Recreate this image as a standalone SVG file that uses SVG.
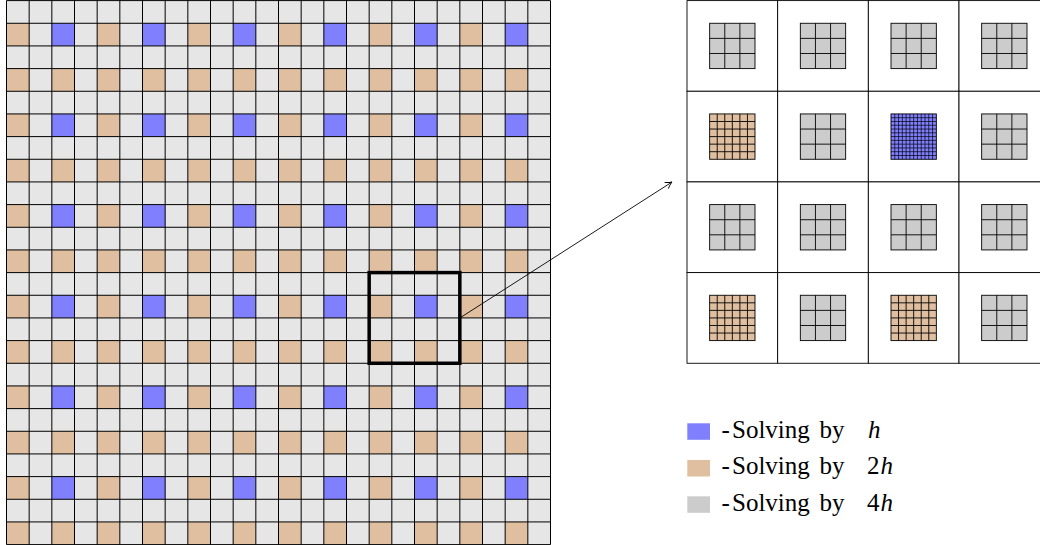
<svg xmlns="http://www.w3.org/2000/svg" xmlns:xlink="http://www.w3.org/1999/xlink" width="1040" height="545" viewBox="0 0 1040 545">
<style>
.gl{stroke:#000;stroke-width:0.9;fill:none}
.cell{stroke:#000;stroke-width:0.9;fill:none}
.tan{fill:#dfbf9f}
.blue{fill:#8080ff}
.lg{fill:#e6e6e6}
.dg{fill:#cccccc}
.zc{fill:#fff;stroke:#000;stroke-width:0.9}
.box{fill:none;stroke:#000;stroke-width:3.5}
.conn{stroke:#000;stroke-width:0.9;fill:none}
.lbl{font-size:25px;fill:#000}
</style>
<defs>
<marker id="arr" markerUnits="userSpaceOnUse" markerWidth="12" markerHeight="12" refX="10" refY="6" orient="auto" viewBox="0 0 12 12">
<path d="M3.5 2.5 Q8 5.5 10 6 Q8 6.5 3.5 9.5" fill="none" stroke="#000" stroke-width="0.9"/>
</marker>
<g id="blk">
<rect class="tan" x="0" y="22.667" width="22.667" height="22.667"/>
<rect class="blue" x="45.333" y="22.667" width="22.667" height="22.667"/>
<rect class="tan" x="0" y="68" width="22.667" height="22.667"/>
<rect class="tan" x="45.333" y="68" width="22.667" height="22.667"/>
</g>
<g id="blkrow">
<use xlink:href="#blk" x="0"/>
<use xlink:href="#blk" x="90.667"/>
<use xlink:href="#blk" x="181.333"/>
<use xlink:href="#blk" x="272"/>
<use xlink:href="#blk" x="362.667"/>
<use xlink:href="#blk" x="453.333"/>
</g>
<g id="g3"><rect class="dg" width="45.333" height="45.333"/><path class="gl" d="M15.111 0V45.333M30.222 0V45.333M0 15.111H45.333M0 30.222H45.333"/><rect class="cell" width="45.333" height="45.333"/></g>
<g id="g6"><rect class="tan" width="45.333" height="45.333"/><path class="gl" d="M7.556 0V45.333M15.111 0V45.333M22.667 0V45.333M30.222 0V45.333M37.778 0V45.333M0 7.556H45.333M0 15.111H45.333M0 22.667H45.333M0 30.222H45.333M0 37.778H45.333"/><rect class="cell" width="45.333" height="45.333"/></g>
<g id="g12"><rect class="blue" width="45.333" height="45.333"/><path class="gl" style="stroke-width:0.7" d="M3.778 0V45.333M7.556 0V45.333M11.333 0V45.333M15.111 0V45.333M18.889 0V45.333M22.667 0V45.333M26.444 0V45.333M30.222 0V45.333M34 0V45.333M37.778 0V45.333M41.556 0V45.333M0 3.778H45.333M0 7.556H45.333M0 11.333H45.333M0 15.111H45.333M0 18.889H45.333M0 22.667H45.333M0 26.444H45.333M0 30.222H45.333M0 34H45.333M0 37.778H45.333M0 41.556H45.333"/><rect class="cell" width="45.333" height="45.333"/></g>
</defs>

<g id="left-grid" transform="translate(6.5,0.6)">
<rect class="lg" x="0" y="0" width="544" height="544"/>
<use xlink:href="#blkrow" y="0"/>
<use xlink:href="#blkrow" y="90.667"/>
<use xlink:href="#blkrow" y="181.333"/>
<use xlink:href="#blkrow" y="272"/>
<use xlink:href="#blkrow" y="362.667"/>
<use xlink:href="#blkrow" y="453.333"/>
<path class="gl" style="stroke-width:1" d="M0 0V544M22.667 0V544M45.333 0V544M68 0V544M90.667 0V544M113.333 0V544M136 0V544M158.667 0V544M181.333 0V544M204 0V544M226.667 0V544M249.333 0V544M272 0V544M294.667 0V544M317.333 0V544M340 0V544M362.667 0V544M385.333 0V544M408 0V544M430.667 0V544M453.333 0V544M476 0V544M498.667 0V544M521.333 0V544M544 0V544M0 0H544M0 22.667H544M0 45.333H544M0 68H544M0 90.667H544M0 113.333H544M0 136H544M0 158.667H544M0 181.333H544M0 204H544M0 226.667H544M0 249.333H544M0 272H544M0 294.667H544M0 317.333H544M0 340H544M0 362.667H544M0 385.333H544M0 408H544M0 430.667H544M0 453.333H544M0 476H544M0 498.667H544M0 521.333H544M0 544H544"/>
</g>

<g id="zoom-box" transform="translate(6.5,0.6)">
<rect class="box" x="362.667" y="272" width="90.667" height="90.667"/>
</g>

<g id="zoom-panel" transform="translate(687,0.6)">
<g id="z-r0c0"><rect class="zc" x="0" y="0" width="90.667" height="90.667"/><use xlink:href="#g3" x="22.667" y="22.667"/></g>
<g id="z-r0c1"><rect class="zc" x="90.667" y="0" width="90.667" height="90.667"/><use xlink:href="#g3" x="113.333" y="22.667"/></g>
<g id="z-r0c2"><rect class="zc" x="181.333" y="0" width="90.667" height="90.667"/><use xlink:href="#g3" x="204" y="22.667"/></g>
<g id="z-r0c3"><rect class="zc" x="272" y="0" width="90.667" height="90.667"/><use xlink:href="#g3" x="294.667" y="22.667"/></g>
<g id="z-r1c0"><rect class="zc" x="0" y="90.667" width="90.667" height="90.667"/><use xlink:href="#g6" x="22.667" y="113.333"/></g>
<g id="z-r1c1"><rect class="zc" x="90.667" y="90.667" width="90.667" height="90.667"/><use xlink:href="#g3" x="113.333" y="113.333"/></g>
<g id="z-r1c2"><rect class="zc" x="181.333" y="90.667" width="90.667" height="90.667"/><use xlink:href="#g12" x="204" y="113.333"/></g>
<g id="z-r1c3"><rect class="zc" x="272" y="90.667" width="90.667" height="90.667"/><use xlink:href="#g3" x="294.667" y="113.333"/></g>
<g id="z-r2c0"><rect class="zc" x="0" y="181.333" width="90.667" height="90.667"/><use xlink:href="#g3" x="22.667" y="204"/></g>
<g id="z-r2c1"><rect class="zc" x="90.667" y="181.333" width="90.667" height="90.667"/><use xlink:href="#g3" x="113.333" y="204"/></g>
<g id="z-r2c2"><rect class="zc" x="181.333" y="181.333" width="90.667" height="90.667"/><use xlink:href="#g3" x="204" y="204"/></g>
<g id="z-r2c3"><rect class="zc" x="272" y="181.333" width="90.667" height="90.667"/><use xlink:href="#g3" x="294.667" y="204"/></g>
<g id="z-r3c0"><rect class="zc" x="0" y="272" width="90.667" height="90.667"/><use xlink:href="#g6" x="22.667" y="294.667"/></g>
<g id="z-r3c1"><rect class="zc" x="90.667" y="272" width="90.667" height="90.667"/><use xlink:href="#g3" x="113.333" y="294.667"/></g>
<g id="z-r3c2"><rect class="zc" x="181.333" y="272" width="90.667" height="90.667"/><use xlink:href="#g6" x="204" y="294.667"/></g>
<g id="z-r3c3"><rect class="zc" x="272" y="272" width="90.667" height="90.667"/><use xlink:href="#g3" x="294.667" y="294.667"/></g>
</g>

<g id="connectors">
<line class="conn" x1="459.8" y1="318" x2="672" y2="182" marker-end="url(#arr)"/>
</g>

<g id="legend" font-family="Liberation Serif, Times New Roman, serif">
<g id="legend-h"><rect class="blue" x="687.3" y="423.3" width="22.7" height="16.5"/>
<text class="lbl" font-family="Liberation Serif, serif" y="437.7"><tspan x="721.5">-</tspan><tspan x="732">Solving</tspan><tspan x="819.5">by</tspan><tspan x="868" font-style="italic">h</tspan></text></g>
<g id="legend-2h"><rect class="tan" x="687.3" y="460" width="22.7" height="16.5"/>
<text class="lbl" font-family="Liberation Serif, serif" y="474.2"><tspan x="721.5">-</tspan><tspan x="732">Solving</tspan><tspan x="819.5">by</tspan><tspan x="867">2</tspan><tspan x="880.5" font-style="italic">h</tspan></text></g>
<g id="legend-4h"><rect class="dg" x="687.3" y="496.3" width="22.7" height="16.5"/>
<text class="lbl" font-family="Liberation Serif, serif" y="510.5"><tspan x="721.5">-</tspan><tspan x="732">Solving</tspan><tspan x="819.5">by</tspan><tspan x="867">4</tspan><tspan x="880.5" font-style="italic">h</tspan></text></g>
</g>
</svg>
